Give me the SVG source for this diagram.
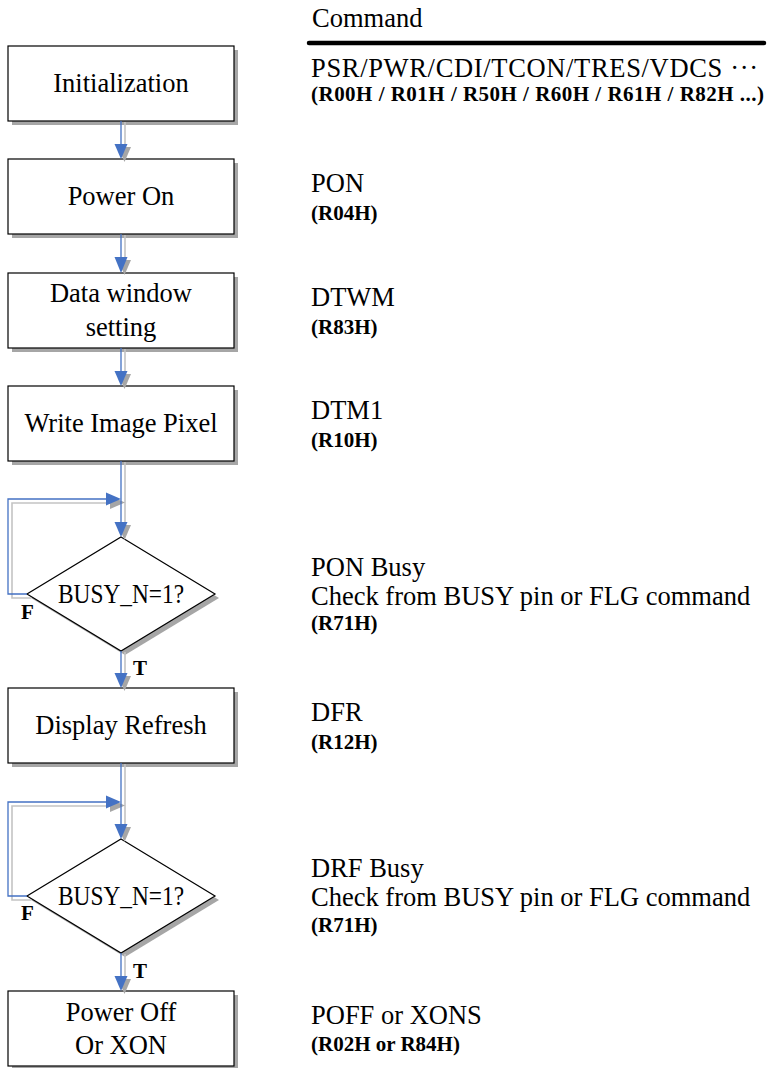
<svg xmlns="http://www.w3.org/2000/svg" width="767" height="1068" viewBox="0 0 767 1068">
<style>
.box{fill:#fff;stroke:#000;stroke-width:1.2}
.sh{fill:#a6a6a6}
.t{font-family:"Liberation Serif","Times New Roman",serif;font-size:26.5px;fill:#000}
.tc{text-anchor:middle}
.b{font-family:"Liberation Serif","Times New Roman",serif;font-size:21px;font-weight:bold;fill:#000}
.ln{fill:none;stroke:#4472c4;stroke-width:1.3}
.lsh{fill:none;stroke:#c4c4c4;stroke-width:1.6}
.ah{fill:#4472c4}
.ahs{fill:#a6a6a6}
</style>
<rect width="767" height="1068" fill="#fff"/>

<g id="header">
<text class="t" x="312" y="27">Command</text>
<line x1="309" y1="43" x2="764" y2="43" stroke="#000" stroke-width="4.5" stroke-linecap="round"/>
</g>

<g id="n1">
<rect class="sh" x="12" y="50" width="226" height="75"/>
<rect class="box" x="8" y="46" width="226" height="75"/>
<text class="t tc" x="121" y="92">Initialization</text>
</g>
<g id="n2">
<rect class="sh" x="12" y="163" width="226" height="75"/>
<rect class="box" x="8" y="159" width="226" height="75"/>
<text class="t tc" x="121" y="205">Power On</text>
</g>
<g id="n3">
<rect class="sh" x="12" y="277" width="226" height="75"/>
<rect class="box" x="8" y="273" width="226" height="75"/>
<text class="t tc" x="121" y="302">Data window</text>
<text class="t tc" x="121" y="336">setting</text>
</g>
<g id="n4">
<rect class="sh" x="12" y="390" width="226" height="75"/>
<rect class="box" x="8" y="386" width="226" height="75"/>
<text class="t tc" x="121" y="432">Write Image Pixel</text>
</g>
<g id="d1">
<polygon class="sh" points="125,541 219,598 125,655 31,598"/>
<polygon class="box" points="121,537 215,594 121,651 27,594"/>
<text class="t tc" x="121" y="603" textLength="126" lengthAdjust="spacingAndGlyphs">BUSY_N=1?</text>
</g>
<g id="n5">
<rect class="sh" x="12" y="692" width="226" height="75"/>
<rect class="box" x="8" y="688" width="226" height="75"/>
<text class="t tc" x="121" y="734">Display Refresh</text>
</g>
<g id="d2">
<polygon class="sh" points="125,843 219,900 125,957 31,900"/>
<polygon class="box" points="121,839 215,896 121,953 27,896"/>
<text class="t tc" x="121" y="905" textLength="126" lengthAdjust="spacingAndGlyphs">BUSY_N=1?</text>
</g>
<g id="n6">
<rect class="sh" x="12" y="995" width="226" height="75"/>
<rect class="box" x="8" y="991" width="226" height="75"/>
<text class="t tc" x="121" y="1021">Power Off</text>
<text class="t tc" x="121" y="1054">Or XON</text>
</g>

<g id="connectors">
<path class="lsh" d="M125,122 V158 M125,235 V272 M125,349 V385 M125,462 V536 M125,652 V687 M125,764 V838 M125,954 V990"/>
<path class="lsh" d="M31,598 H12 V503 H118"/>
<path class="lsh" d="M31,900 H12 V806 H118"/>
<g class="ahs">
<polygon points="118,147 131,147 124.5,162"/>
<polygon points="118,260 131,260 124.5,275"/>
<polygon points="118,374 131,374 124.5,389"/>
<polygon points="118,525 131,525 124.5,540"/>
<polygon points="118,676 131,676 124.5,691"/>
<polygon points="118,827 131,827 124.5,842"/>
<polygon points="118,979 131,979 124.5,994"/>
<polygon points="110,496 110,509 125,502.5"/>
<polygon points="110,799 110,812 125,805.5"/>
</g>
<path class="ln" d="M121,121 V146 M121,234 V259 M121,348 V373 M121,461 V524 M121,651 V675 M121,763 V826 M121,953 V978"/>
<path class="ln" d="M27,594 H8 V499 H108"/>
<path class="ln" d="M27,896 H8 V802 H108"/>
<g class="ah">
<polygon points="114.5,144 127.5,144 121,159"/>
<polygon points="114.5,257 127.5,257 121,273"/>
<polygon points="114.5,371 127.5,371 121,386"/>
<polygon points="114.5,522 127.5,522 121,537"/>
<polygon points="114.5,673 127.5,673 121,688"/>
<polygon points="114.5,824 127.5,824 121,839"/>
<polygon points="114.5,976 127.5,976 121,991"/>
<polygon points="106,492.5 106,505.5 121,499"/>
<polygon points="106,795.5 106,808.5 121,802"/>
</g>
</g>

<g id="labels">
<text class="b" x="21" y="619">F</text>
<text class="b" x="133" y="675">T</text>
<text class="b" x="21" y="920">F</text>
<text class="b" x="133" y="978">T</text>
</g>

<g id="commands">
<text class="t" x="311" y="77" textLength="447" lengthAdjust="spacing">PSR/PWR/CDI/TCON/TRES/VDCS ···</text>
<text class="b" x="311" y="101" textLength="453" lengthAdjust="spacing">(R00H / R01H / R50H / R60H / R61H / R82H ...)</text>
<text class="t" x="311" y="192">PON</text>
<text class="b" x="311" y="220">(R04H)</text>
<text class="t" x="311" y="306">DTWM</text>
<text class="b" x="311" y="334">(R83H)</text>
<text class="t" x="311" y="419">DTM1</text>
<text class="b" x="311" y="447">(R10H)</text>
<text class="t" x="311" y="576">PON Busy</text>
<text class="t" x="311" y="605">Check from BUSY pin or FLG command</text>
<text class="b" x="311" y="630">(R71H)</text>
<text class="t" x="311" y="877">DRF Busy</text>
<text class="t" x="311" y="906">Check from BUSY pin or FLG command</text>
<text class="b" x="311" y="932">(R71H)</text>
<text class="t" x="311" y="721">DFR</text>
<text class="b" x="311" y="749">(R12H)</text>
<text class="t" x="311" y="1024">POFF or XONS</text>
<text class="b" x="311" y="1051">(R02H or R84H)</text>
</g>
</svg>
